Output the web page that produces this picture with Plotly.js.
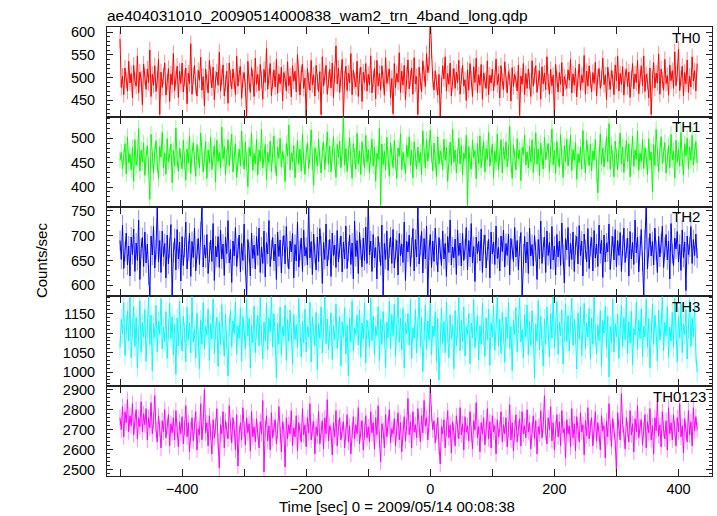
<!DOCTYPE html>
<html>
<head>
<meta charset="utf-8">
<script src="https://cdn.plot.ly/plotly-3.0.1.min.js"></script>
<style>html,body{margin:0;padding:0;background:#fff;}#chart{width:717px;height:516px;}</style>
</head>
<body>
<div id="chart"></div>
<script>
// Time bins (seconds relative to 2009/05/14 00:08:38)
const tStart = -500;
const binSec = 2;

const panelNames = ["TH0", "TH1", "TH2", "TH3", "TH0123"];

const th0 = [
585,478,503,462,521,495,470,536,488,509,
455,527,493,481,548,466,512,497,440,530,
502,474,519,489,561,458,507,483,526,469,
495,541,418,512,478,503,532,461,490,520,
447,508,484,553,471,498,525,456,514,487,
532,468,499,521,442,510,486,575,463,504,
527,481,459,516,494,545,472,502,437,519,
490,466,538,505,477,523,451,496,512,483,
556,470,501,528,459,487,514,443,532,498,
475,519,493,462,547,481,508,524,454,495,
511,478,413,536,490,467,522,500,458,543,
485,507,471,529,496,452,518,489,564,474,
502,531,460,494,517,479,540,465,508,486,
523,448,511,497,470,535,482,503,457,526,
492,514,468,551,487,461,509,530,476,499,
415,520,493,472,538,484,506,459,527,490,
469,513,418,546,481,502,527,463,495,518,
477,532,455,508,570,486,521,467,499,540,
414,497,525,471,510,488,553,462,516,493,
479,536,458,504,523,447,512,489,531,470,
507,484,548,466,497,520,453,538,481,509,
472,526,495,461,544,487,503,519,456,498,
420,531,478,509,490,555,467,514,483,527,
451,506,539,475,498,521,463,544,486,502,
418,523,492,469,537,508,480,553,511,528,
640,559,496,472,515,488,461,507,414,483,
526,497,546,470,509,485,532,459,501,520,
476,512,489,538,463,504,527,481,495,449,
517,472,531,496,458,524,489,543,467,506,
483,529,452,510,494,476,537,462,505,488,
519,471,499,541,484,508,455,526,492,473,
535,487,466,513,501,448,522,480,507,494,
470,528,416,503,485,531,462,509,476,519,
493,458,537,481,504,526,467,499,515,452,
524,486,510,473,546,491,463,518,482,505,
413,529,497,468,511,485,533,459,502,490,
476,517,494,540,466,508,483,521,457,498,
530,472,505,489,549,463,514,481,526,495,
468,511,487,534,459,502,520,476,497,543,
484,506,451,523,490,474,515,499,462,528,
493,547,470,509,485,524,461,503,518,480,
512,456,497,531,475,508,489,538,464,501,
526,482,548,469,507,492,455,521,418,496,
533,477,510,488,552,463,519,495,472,540,
487,504,461,528,493,515,476,557,482,509,
563,471,498,525,460,511,486,539,467,503,
479,546,492,515,470,531];

const th1 = [
455,471,438,462,489,427,503,450,468,436,
481,412,497,445,459,520,433,476,451,490,
424,463,485,441,375,508,456,430,472,495,
447,418,483,461,512,439,470,426,499,452,
466,488,409,475,443,521,457,432,480,462,
437,496,453,414,478,449,505,428,468,491,
455,422,487,463,440,511,474,431,459,493,
418,476,449,502,436,467,485,410,496,452,
471,439,523,458,483,426,461,497,444,475,
508,431,466,489,420,454,478,443,515,460,
437,492,456,401,481,463,510,434,469,447,
498,425,476,453,518,439,462,487,415,471,
450,494,432,467,505,446,423,482,459,500,
441,473,456,411,489,464,527,436,470,452,
485,419,462,496,447,478,433,509,455,426,
471,490,438,463,517,451,404,480,467,443,
498,458,429,475,492,436,469,513,447,484,
431,466,503,452,420,487,461,494,440,472,
544,445,479,432,468,501,455,418,489,463,
437,510,448,474,426,493,460,439,506,451,
477,430,465,498,443,481,412,469,457,520,
362,488,446,473,435,502,459,422,491,467,
440,495,452,418,480,463,509,436,471,454,
428,486,461,503,445,476,419,493,458,437,
482,450,471,426,515,462,439,497,453,478,
517,468,433,490,456,421,503,447,474,462,
436,498,455,481,412,469,492,444,518,451,
476,429,463,500,447,485,425,470,458,506,
362,483,452,437,496,461,474,417,489,448,
505,440,468,493,431,479,457,512,443,466,
488,420,474,451,509,436,463,497,429,482,
457,493,441,470,524,448,418,486,462,435,
499,458,476,413,481,467,506,445,472,439,
484,451,497,430,464,511,447,478,424,490,
461,437,502,456,473,489,432,468,519,446,
475,428,494,459,441,507,463,420,485,452,
498,443,470,506,434,477,455,491,416,468,
450,482,437,516,461,429,496,471,444,488,
433,474,455,497,426,388,462,509,448,480,
441,469,503,452,530,437,486,458,421,494,
463,436,477,511,447,482,430,468,495,453,
489,421,461,504,442,476,457,515,434,470,
452,497,438,481,463,426,499,455,472,390,
487,444,518,459,432,476,503,449,467,491,
429,462,485,440,508,456,473,419,496,451,
477,443,512,458,425,489,464,500,437,482,
455,506,446,471,493,449];

const th2 = [
690,652,721,634,668,705,641,679,619,697,
662,713,628,685,650,731,612,674,696,638,
707,645,683,621,578,699,661,718,635,672,
760,647,690,626,709,658,684,615,701,643,
675,722,578,666,694,631,712,653,687,609,
698,640,676,727,633,669,705,618,688,656,
715,629,673,694,642,708,762,637,681,655,
702,624,667,691,648,724,610,679,657,698,
636,711,653,683,620,697,664,730,645,672,
606,689,659,716,638,675,701,627,684,650,
723,641,578,692,667,619,705,654,681,633,
698,660,715,626,677,644,709,617,686,663,
730,638,672,696,649,683,612,707,658,691,
625,679,700,643,718,656,633,689,667,704,
615,682,649,727,637,670,695,628,711,659,
676,641,762,655,688,622,703,664,631,697,
648,714,679,604,686,652,723,639,671,692,
618,705,660,681,636,710,647,676,699,627,
687,653,719,634,668,701,642,685,613,729,
658,690,624,706,671,637,695,650,717,644,
765,661,689,628,702,655,676,613,698,667,
640,721,580,684,652,709,630,675,697,644,
712,635,673,690,621,704,659,683,646,727,
610,688,667,701,638,676,714,629,692,657,
762,643,680,708,625,694,653,719,580,671,
702,636,689,648,715,661,627,696,672,640,
709,653,684,618,698,666,731,641,677,655,
693,622,711,660,685,639,704,650,673,716,
631,690,657,724,645,678,608,697,664,688,
649,713,626,682,701,635,670,692,615,707,
663,687,642,719,654,676,629,699,668,711,
637,684,660,703,621,694,673,648,716,657,
690,631,679,706,580,663,698,645,687,624,
715,659,682,639,700,668,612,692,653,729,
644,677,697,626,709,660,686,633,718,651,
679,621,702,657,689,640,725,662,605,694,
671,716,638,685,652,707,628,681,698,643,
720,660,689,619,703,672,647,714,634,678,
696,629,710,655,683,638,721,664,691,616,
701,647,685,667,723,632,679,698,651,712,
637,690,660,706,628,681,715,646,674,695,
619,708,653,686,642,731,665,697,627,680,
712,648,580,692,765,633,676,704,659,688,
641,715,670,626,698,657,684,719,636,677,
702,651,689,613,724,664,640,695,673,708,
647,682,630,711,656,687,590,699,662,677,
718,644,692,660,703,655];

const th3 = [
1062,1135,1098,1178,1043,1121,1156,1080,1192,1037,
1115,1168,1066,1140,1012,1098,1183,1051,1127,1090,
1160,1028,1112,1194,1071,1146,1003,1124,1089,1171,
1052,1131,1097,1188,1060,1115,1078,1155,1035,1109,
1176,1086,1142,1044,1123,995,1138,1067,1181,1092,
1054,1143,1101,1027,1166,1083,1125,1049,1194,1077,
1110,1036,1152,1090,1008,1134,1072,1178,1059,1117,
1096,1162,1030,1124,1085,1187,1048,1107,1140,1015,
1128,1070,1173,1093,1041,1149,1082,990,1116,1158,
1065,1131,1099,1180,1046,1119,1087,1164,1028,1142,
1104,1059,1186,1092,1137,1011,1121,1075,1169,1050,
1113,1145,1068,1192,1094,1033,1128,1081,1176,1057,
1139,1102,1194,1064,1150,1088,985,1125,1072,1166,
1044,1118,1093,1171,1030,1135,1079,1158,1101,1020,
1147,1084,1122,1062,1188,1097,1039,1130,1075,1161,
1052,1116,1090,1179,1026,1141,1098,1068,1153,1007,
1124,1087,1167,1049,1110,1194,1073,1136,1058,1095,
1152,1032,1119,1083,1174,1061,1106,1142,1016,1128,
1091,1165,1047,1120,990,1138,1077,1183,1055,1112,
1099,1146,1070,1159,1038,1126,1085,1177,1023,1133,
1108,1064,1190,1081,1143,1045,1117,1094,1168,1029,
1136,1071,1155,1103,1012,1129,1088,1181,1060,1148,
1093,1174,1040,1121,1192,1076,1139,1057,1163,1011,
1127,1098,1150,1069,1185,1034,1113,1087,1160,1049,
1120,1194,1066,1141,1002,1106,1172,1058,1131,1083,
1189,1045,1118,1092,1155,1027,1137,980,1101,1164,
1074,1129,1050,1180,1096,1037,1147,1085,1121,1009,
1158,1068,1110,1191,1055,1132,1079,1167,1041,1115,
1097,1150,1022,1126,1088,1185,1063,1108,1145,1031,
1119,1072,1176,1094,1040,1139,1083,1161,1018,1127,
1090,1170,1056,1112,1194,1067,1135,1048,1153,1099,
1025,1141,1086,1179,1061,1117,1004,1133,1095,1165,
1052,1124,1190,1077,1109,1036,1148,1089,1172,1044,
1130,1068,1157,1101,985,1122,1079,1183,1057,1143,
1092,1016,1136,1071,1166,1104,1039,1150,1087,1194,
1063,1114,1181,1046,1128,1093,1159,1021,1106,1174,
1078,1145,1054,1120,1189,1069,1135,1097,1008,1152,
1084,1167,1042,1111,1176,1059,1126,1090,1163,1033,
1138,1072,1192,1098,1047,1121,1081,1158,1015,1132,
1100,1169,1061,1143,988,1117,1076,1186,1052,1124,
1091,1149,1035,1108,1171,1066,1140,1083,1194,1048,
1129,1074,1156,1019,1112,1095,1179,1058,1133,1086,
1162,1040,1118,1090,1187,1064,1137,1011,1104,1175,
1071,1146,1099,1029,1158,1082,1120,1194,1055,1127,
1093,1168,1037,1115,1080,1153,1062,1189,1104,1026,
1142,1088,1177,1050,1123,1096,1160,1034,1112,1185,
1066,1139,1091,1170,1047,1000];

const th0123 = [
2760,2700,2815,2665,2790,2735,2850,2690,2770,2720,
2830,2675,2745,2800,2655,2760,2715,2840,2690,2780,
2725,2805,2650,2760,2710,2835,2680,2745,2870,2700,
2640,2770,2705,2610,2745,2690,2800,2660,2715,2775,
2620,2730,2685,2760,2650,2795,2700,2615,2740,2680,
2765,2630,2710,2820,2665,2735,2590,2700,2760,2645,
2720,2790,2600,2705,2675,2830,2650,2740,2900,2685,
2735,2620,2770,2690,2580,2750,2660,2715,2805,2640,
2510,2725,2680,2790,2610,2745,2700,2655,2820,2690,
2635,2760,2705,2600,2775,2520,2680,2735,2650,2810,
2700,2625,2760,2685,2730,2595,2790,2665,2715,2640,
2755,2690,2610,2740,2680,2845,2490,2705,2770,2645,
2720,2600,2785,2660,2710,2750,2630,2695,2815,2675,
2590,2740,2700,2515,2760,2655,2725,2680,2795,2620,
2710,2665,2770,2595,2735,2690,2640,2805,2675,2725,
2615,2760,2685,2830,2650,2705,2740,2580,2715,2670,
2790,2630,2700,2745,2605,2760,2680,2850,2645,2720,
2690,2575,2735,2665,2795,2620,2710,2760,2650,2700,
2740,2610,2685,2775,2640,2720,2580,2700,2765,2655,
2725,2680,2810,2630,2705,2745,2600,2690,2770,2660,
2715,2640,2790,2685,2735,2605,2760,2675,2820,2650,
2540,2730,2695,2610,2775,2665,2720,2800,2635,2705,
2680,2755,2620,2710,2785,2650,2735,2590,2700,2765,
2645,2720,2855,2675,2740,2610,2790,2690,2725,2660,
2805,2700,2640,2770,2685,2845,2720,2760,2650,2730,
2916,2780,2700,2745,2635,2690,2760,2620,2530,2715,
2680,2750,2610,2705,2795,2660,2725,2585,2740,2690,
2620,2770,2700,2655,2810,2675,2730,2600,2765,2690,
2720,2645,2790,2680,2605,2745,2700,2835,2660,2715,
2590,2735,2680,2760,2625,2700,2805,2655,2740,2610,
2770,2690,2720,2580,2750,2665,2705,2790,2640,2725,
2680,2760,2615,2700,2825,2650,2735,2595,2710,2775,
2640,2705,2755,2620,2790,2680,2720,2660,2800,2690,
2735,2605,2700,2770,2655,2745,2580,2715,2680,2795,
2660,2725,2870,2690,2630,2760,2700,2815,2645,2735,
2600,2710,2775,2665,2740,2620,2795,2685,2705,2560,
2750,2680,2720,2615,2805,2660,2730,2595,2765,2700,
2640,2785,2690,2725,2575,2745,2670,2810,2655,2710,
2760,2620,2700,2790,2645,2735,2680,2600,2770,2695,
2720,2560,2745,2665,2830,2690,2615,2755,2700,2640,
2490,2785,2710,2650,2880,2725,2680,2605,2760,2700,
2640,2795,2675,2730,2590,2755,2690,2820,2660,2715,
2750,2625,2700,2775,2610,2740,2685,2805,2650,2720,
2580,2760,2695,2840,2670,2725,2615,2790,2700,2655,
2745,2600,2810,2680,2735,2650,2775,2705,2620,2760,
2690,2830,2665,2720,2585,2755,2700,2640,2795,2675,
2740,2620,2810,2695,2765,2700];

// typical 1-sigma uncertainty per panel (counts/sec)
const errSigma = [18, 17, 20, 25, 40];

const seriesValues = [th0, th1, th2, th3, th0123];
const colors = ["#ff0000", "#00ff00", "#0000ff", "#00ffff", "#ff00ff"];
const errColors = ["rgba(255,0,0,0.45)", "rgba(0,255,0,0.45)", "rgba(0,0,255,0.45)", "rgba(0,255,255,0.45)", "rgba(255,0,255,0.45)"];
const yRanges = [[413, 612], [360, 544], [578, 758], [964, 1194], [2470, 2917]];
const yDticks = [50, 50, 50, 50, 100];
const yMinor = [10, 10, 10, 10, 20];

const time = th0.map((_, i) => tStart + i * binSec);

const n = panelNames.length;
const axisColor = "#222";
const traces = [];
const layout = {
  width: 717, height: 516,
  margin: {l: 107, r: 5, t: 27, b: 40, pad: 0},
  paper_bgcolor: "#fff", plot_bgcolor: "#fff",
  showlegend: false,
  font: {family: "Liberation Sans, Arial, sans-serif", color: "#000", size: 15},
  title: {
    text: "ae404031010_20090514000838_wam2_trn_4band_long.qdp",
    font: {size: 15.5, color: "#000"},
    xref: "paper", x: 0, xanchor: "left",
    yref: "container", y: 1 - 15.5/516, yanchor: "middle"
  },
  annotations: []
};

for (let i = 0; i < n; i++) {
  const sfx = i === 0 ? "" : String(i + 1);
  traces.push({
    type: "scatter", mode: "lines",
    x: time, y: seriesValues[i],
    xaxis: "x" + sfx, yaxis: "y" + sfx,
    line: {color: colors[i], width: 1},
    error_y: {type: "constant", value: errSigma[i], color: errColors[i], thickness: 1, width: 0},
    hoverinfo: "x+y"
  });
  const top = 1 - i / n, bottom = 1 - (i + 1) / n;
  layout["xaxis" + sfx] = {
    range: [-521, 454], anchor: "y" + sfx,
    matches: i === 0 ? undefined : "x",
    showline: true, linecolor: axisColor, linewidth: 1, mirror: "allticks",
    ticks: "inside", ticklen: 7, tickcolor: axisColor, tickwidth: 1,
    dtick: 200, tick0: 0,
    minor: {dtick: 100, tick0: 0, ticks: "inside", ticklen: 7, tickcolor: axisColor},
    showgrid: false, zeroline: false,
    showticklabels: i === n - 1,
    tickfont: {size: 14.5}
  };
  layout["yaxis" + sfx] = {
    domain: [bottom, top], anchor: "x" + sfx,
    range: yRanges[i],
    showline: true, linecolor: axisColor, linewidth: 1, mirror: "allticks",
    ticks: "inside", ticklen: 6, tickcolor: axisColor, tickwidth: 1,
    dtick: yDticks[i], tick0: 0,
    minor: {dtick: yMinor[i], tick0: 0, ticks: "inside", ticklen: 3, tickcolor: axisColor},
    showgrid: false, zeroline: false,
    tickfont: {size: 14.5},
    ticklabelstandoff: 8
  };
  layout.annotations.push({
    text: panelNames[i], xref: "paper", yref: "paper",
    x: i === n - 1 ? 0.994 : 0.984, y: top, yshift: -10,
    xanchor: "right", yanchor: "middle", showarrow: false,
    font: {size: 15, color: "#000"}
  });
}

layout.annotations.push({
  text: "Counts/sec", xref: "paper", yref: "paper",
  x: -0.109, y: 0.481, textangle: -90,
  xanchor: "center", yanchor: "middle", showarrow: false,
  font: {size: 15, color: "#000"}
});
layout.annotations.push({
  text: "Time [sec] 0 = 2009/05/14 00:08:38", xref: "paper", yref: "paper",
  x: 0.480, y: -0.069, xanchor: "center", yanchor: "middle", showarrow: false,
  font: {size: 15, color: "#000"}
});

Plotly.newPlot("chart", traces, layout, {displayModeBar: false, staticPlot: true});
</script>
</body>
</html>
